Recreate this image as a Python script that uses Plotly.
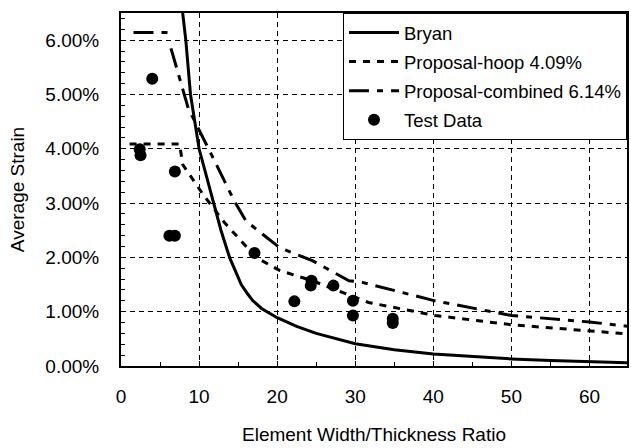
import plotly.graph_objects as go

# ---- data ----
bryan_x = [7.6, 7.9, 8.3, 8.9, 10.0, 11.0, 11.8, 12.8, 13.9, 14.7, 15.4, 16.2, 16.9, 18.0, 20.0, 22.5, 25.0, 30.0, 35.0, 40.0, 45.0, 50.0, 55.0, 60.0, 65.0]
bryan_y = [0.068, 0.065, 0.060, 0.050, 0.040, 0.0345, 0.030, 0.025, 0.020, 0.0172, 0.0150, 0.0133, 0.0120, 0.0106, 0.0089, 0.0073, 0.0060, 0.0041, 0.0030, 0.0022, 0.0017, 0.0013, 0.0010, 0.0008, 0.0006]

hoop_x = [1.1, 7.5, 7.9, 10.5, 13.25, 17.3, 20.3, 24.5, 31.7, 40.2, 50.0, 60.0, 65.0]
hoop_y = [0.0409, 0.0409, 0.0371, 0.0316, 0.0264, 0.0200, 0.0176, 0.0157, 0.0117, 0.0093, 0.0076, 0.0065, 0.0059]

comb_x = [1.6, 6.2, None, 6.4, 8.6, 11.8, 14.5, 16.0, 20.3, 24.5, 29.2, 30.9, 40.2, 50.0, 60.0, 65.0]
comb_y = [0.0614, 0.0614, None, 0.0585, 0.0475, 0.0383, 0.0304, 0.0267, 0.0218, 0.0194, 0.0157, 0.0154, 0.0120, 0.0093, 0.0081, 0.0073]

test_x = [4.0, 2.4, 2.5, 6.9, 6.2, 6.9, 17.1, 22.2, 24.4, 24.3, 27.2, 29.7, 29.7, 34.8, 34.8]
test_y = [0.0529, 0.0399, 0.0388, 0.0358, 0.0240, 0.0240, 0.0208, 0.0119, 0.0157, 0.0148, 0.0148, 0.0120, 0.0093, 0.0087, 0.0079]

x_ticks = [0, 10, 20, 30, 40, 50, 60]
y_ticks = [0.0, 0.01, 0.02, 0.03, 0.04, 0.05, 0.06]

FONT = "Liberation Sans, Arial, sans-serif"

fig = go.Figure()
fig.add_trace(go.Scatter(x=bryan_x, y=bryan_y, mode="lines", name="Bryan",
                         line=dict(color="black", width=3), legendgroup="a"))
fig.add_trace(go.Scatter(x=hoop_x, y=hoop_y, mode="lines", name="Proposal-hoop 4.09%",
                         line=dict(color="black", width=3, dash="7px,7px"), legendgroup="b"))
fig.add_trace(go.Scatter(x=comb_x, y=comb_y, mode="lines", name="Proposal-combined 6.14%",
                         connectgaps=False,
                         line=dict(color="black", width=3, dash="20px,8px,6px,8px"), legendgroup="c"))
fig.add_trace(go.Scatter(x=test_x, y=test_y, mode="markers", name="Test Data",
                         marker=dict(color="black", size=12), legendgroup="d"))

axis_common = dict(
    showline=True, linecolor="black", linewidth=2, mirror=True,
    showgrid=True, gridcolor="black", gridwidth=1, griddash="5px,4px",
    zeroline=False, ticks="inside", ticklen=5, tickcolor="black", tickwidth=1,
    tickfont=dict(family=FONT, size=19, color="black"),
)

fig.update_xaxes(range=[0, 64.8], tickvals=x_ticks, ticktext=[str(v) for v in x_ticks],
                 minor=dict(dtick=5, ticks="inside", ticklen=4, tickcolor="black", showgrid=False),
                 title=dict(text="Element Width/Thickness Ratio", font=dict(family=FONT, size=19, color="black"), standoff=22),
                 ticklabelstandoff=12,
                 **axis_common)
fig.update_yaxes(range=[0, 0.065], tickvals=y_ticks, tickformat=".2%",
                 minor=dict(dtick=0.002, tick0=0, ticks="inside", ticklen=4, tickcolor="black", showgrid=False),
                 title=dict(text="Average Strain", font=dict(family=FONT, size=19, color="black"), standoff=16),
                 ticklabelstandoff=16,
                 **axis_common)

fig.update_layout(
    width=631, height=448,
    margin=dict(l=121, r=2, t=13, b=82),
    paper_bgcolor="white", plot_bgcolor="white",
    font=dict(family=FONT, size=18, color="black"),
    showlegend=True,
    legend=dict(x=1, y=1, xanchor="right", yanchor="top",
                bordercolor="black", borderwidth=1, bgcolor="white",
                font=dict(family=FONT, size=18.5, color="black"),
                tracegroupgap=2, itemwidth=50, traceorder="grouped"),
)

fig.write_html("out.html")
